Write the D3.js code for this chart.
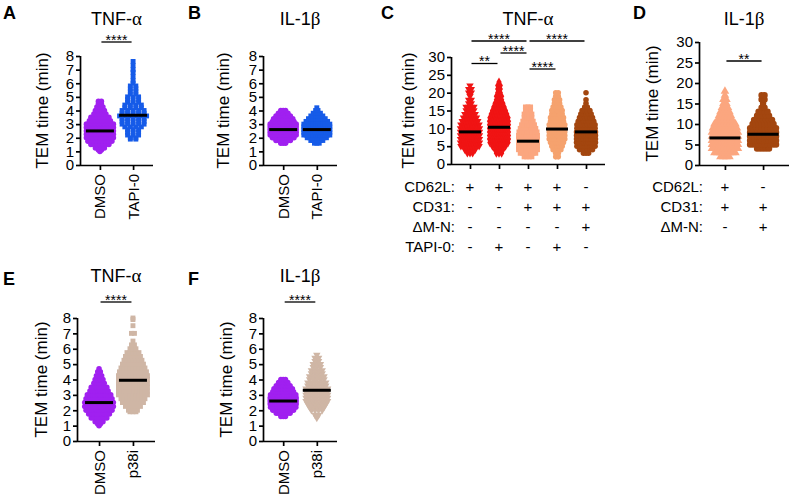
<!DOCTYPE html>
<html><head><meta charset="utf-8">
<script src="https://cdnjs.cloudflare.com/ajax/libs/d3/7.8.5/d3.min.js"></script>
<style>
body{margin:0;background:#fff}
svg{display:block}
text{font-family:"Liberation Sans",Arial,Helvetica,sans-serif;fill:#000}
</style></head><body>
<svg id="c" width="789" height="503"></svg>
<script>
// ---------------- DATA ----------------
const catsAB = ["DMSO", "TAPI-0"];
const catsEF = ["DMSO", "p38i"];
const catsC = ["C1", "C2", "C3", "C4", "C5"];
const catsD = ["D1", "D2"];
const ticks8 = [0, 1, 2, 3, 4, 5, 6, 7, 8];
const ticks30 = [0, 5, 10, 15, 20, 25, 30];

const rowLabelsC = ["CD62L:", "CD31:", "\u0394M-N:", "TAPI-0:"];
const rowSignsC = [["+","+","+","+","-"],["-","-","+","+","+"],["-","-","-","-","+"],["-","+","-","+","-"]];
const rowLabelsD = ["CD62L:", "CD31:", "\u0394M-N:"];
const rowSignsD = [["+","-"],["+","+"],["-","+"]];

// values as [TEM time (min), number of cells at that time]
const A_DMSO = [[1.0,1],[1.1,2],[1.25,4],[1.5,7],[1.75,9],[2.0,11],[2.25,12],[2.5,12],[2.75,11],[3.0,10],[3.25,8],[3.5,7],[3.75,5],[4.0,4],[4.25,3],[4.5,2],[4.67,2]];
const A_TAPI = [[1.9,2],[2.0,2],[2.2,3],[2.4,3],[2.6,3],[2.8,4],[3.0,5],[3.2,5],[3.4,5],[3.6,6],[3.8,5],[4.0,5],[4.2,4],[4.4,4],[4.6,3],[4.8,3],[5.0,3],[5.2,2],[5.4,2],[5.6,2],[5.8,2],[6.0,1],[6.2,1],[6.5,1],[6.8,1],[7.0,1],[7.3,1],[7.6,1]];
const B_DMSO = [[1.6,3],[1.8,7],[2.0,10],[2.2,12],[2.4,13],[2.6,14],[2.8,13],[3.0,12],[3.2,10],[3.4,9],[3.6,7],[3.8,5],[4.0,3]];
const B_TAPI = [[1.6,3],[1.8,6],[2.0,9],[2.2,12],[2.4,13],[2.6,14],[2.8,13],[3.0,12],[3.2,10],[3.4,8],[3.6,6],[3.8,4],[4.0,2],[4.2,1]];
const C_1 = [[3,3],[4,5],[5,8],[6,9],[7,10],[8,10],[9,10],[10,9],[11,8],[12,7],[13,6],[14,5],[15,4],[16,4],[17,2],[18,2],[19,1],[20,2],[21,2],[22,1]];
const C_2 = [[3,3],[4,4],[5,6],[6,8],[7,9],[8,10],[9,10],[10,10],[11,10],[12,9],[13,8],[14,7],[15,6],[16,5],[17,4],[18,3],[19,3],[20,2],[21,2],[22,2],[23,1]];
const C_3 = [[2,4],[3,7],[4,9],[5,11],[6,11],[7,10],[8,9],[9,8],[10,7],[11,6],[12,5],[13,4],[14,4],[15,3],[16,3]];
const C_4 = [[2,2],[3,2],[4,4],[5,5],[6,6],[7,7],[8,7],[9,7],[10,7],[11,7],[12,6],[13,6],[14,5],[15,5],[16,4],[17,3],[18,3],[19,2],[20,2]];
const C_5 = [[3,3],[4,6],[5,8],[6,9],[7,9],[8,9],[9,9],[10,8],[11,8],[12,7],[13,6],[14,5],[15,4],[16,2],[17,1],[18,1],[20,1]];
const D_1 = [[2,4],[3,8],[4,10],[5,12],[6,12],[7,11],[8,10],[9,9],[10,8],[11,6],[12,5],[13,4],[14,3],[15,2],[16,2],[17,1],[18,1]];
const D_2 = [[4,5],[5,10],[6,12],[7,12],[8,11],[9,10],[10,8],[11,7],[12,5],[13,4],[14,2],[15,1],[16,2],[17,2]];
const E_DMSO = [[1.0,1],[1.1,2],[1.25,4],[1.5,7],[1.75,9],[2.0,11],[2.25,12],[2.5,12],[2.75,11],[3.0,10],[3.25,8],[3.5,7],[3.75,5],[4.0,4],[4.25,3],[4.5,2],[4.7,1]];
const E_P38 = [[1.9,3],[2.0,4],[2.25,6],[2.5,8],[2.75,9],[3.0,11],[3.25,12],[3.5,12],[3.75,12],[4.0,12],[4.25,11],[4.5,10],[4.75,9],[5.0,8],[5.25,7],[5.5,6],[5.75,5],[6.0,3],[6.25,2],[6.5,1],[7.0,2],[7.5,1],[7.9,1],[8.0,1]];
const F_DMSO = [[1.6,3],[1.8,7],[2.0,10],[2.2,12],[2.4,13],[2.6,14],[2.8,13],[3.0,12],[3.2,10],[3.4,9],[3.6,7],[3.8,5],[4.0,3]];
const F_P38 = [[1.5,1],[1.7,2],[2.0,4],[2.2,5],[2.4,6],[2.6,7],[2.8,7],[3.0,7],[3.2,7],[3.4,7],[3.6,6],[3.8,6],[4.0,5],[4.2,5],[4.4,4],[4.6,4],[4.8,3],[5.0,3],[5.2,2],[5.4,2],[5.6,1]];

// medians (min)
const medA = [2.5, 3.65];
const medB = [2.6, 2.6];
const medC = [9.0, 10.3, 6.4, 9.8, 9.0];
const medD = [6.6, 7.5];
const medE = [2.5, 3.95];
const medF = [2.6, 3.3];

// significance: [from category index, to category index, label]
const sigA = [[0, 1, "****"]];
const sigC = [[0, 2, "****"], [2, 4, "****"], [1, 2, "****"], [0, 1, "**"], [2, 3, "****"]];
const sigD = [[0, 1, "**"]];
const sigE = [[0, 1, "****"]];
const sigF = [[0, 1, "****"]];

// ---------------- STYLE ----------------
const PURPLE = "#A020F0", BLUE = "#165BE8", RED = "#F01414", SALMON1 = "#FBA67F", SALMON2 = "#F5A26E",
      BROWN = "#A3460F", TAN = "#CFB6A5";

const svg = d3.select("#c");
const FONT_TICK = 15;

function symbolFor(name, size) {
  const t = {circle: d3.symbolCircle, square: d3.symbolSquare, diamond: d3.symbolDiamond,
             triUp: d3.symbolTriangle, triDown: d3.symbolTriangle}[name];
  return d3.symbol().type(t).size(size)();
}

function greekTitle(sel, pre, greek) {
  sel.append("tspan").text(pre);
  sel.append("tspan").style("font-family", "'Liberation Serif','Times New Roman',serif").style("font-size", "19px").text(greek);
}

function drawPanel(p) {
  const g = svg.append("g");
  const x = d3.scalePoint().domain(p.cats).range([p.x0, p.x1]).padding(p.pad);
  const y = d3.scaleLinear().domain([0, p.yMax]).range([p.yBot, p.yTop]);

  // points
  p.series.forEach((s, ci) => {
    const cx = x(p.cats[ci]);
    const step = s.dx || p.dx;
    const pts = [];
    s.values.forEach(([v, n]) => {
      const dx = n > 1 ? Math.min(step, p.maxW / (n - 1)) : 0;
      for (let i = 0; i < n; i++) pts.push({v, off: (i - (n - 1) / 2) * dx});
    });
    const path = symbolFor(s.shape, p.size);
    const rot = s.shape === "triDown" ? " rotate(180)" : "";
    g.append("g").selectAll("path").data(pts).join("path")
      .attr("d", path)
      .attr("transform", d => `translate(${cx + d.off},${y(d.v)})${rot}`)
      .attr("fill", s.color);
  });

  // medians
  g.append("g").selectAll("line").data(p.medians).join("line")
    .attr("x1", (d, i) => x(p.cats[i]) - p.medW / 2)
    .attr("x2", (d, i) => x(p.cats[i]) + p.medW / 2)
    .attr("y1", d => y(d)).attr("y2", d => y(d))
    .attr("stroke", "#000").attr("stroke-width", 3);

  // axes
  const ya = g.append("g").attr("transform", `translate(${p.x0},0)`)
    .call(d3.axisLeft(y).tickValues(p.ticks).tickSize(4).tickSizeOuter(0).tickPadding(2));
  const xa = g.append("g").attr("transform", `translate(0,${p.yBot})`)
    .call(d3.axisBottom(x).tickSize(5).tickSizeOuter(0).tickFormat(""));
  [ya, xa].forEach(a => {
    a.selectAll("path.domain").attr("stroke", "#000").attr("stroke-width", 1.7);
    a.selectAll(".tick line").attr("stroke", "#000").attr("stroke-width", 1.7);
    a.selectAll(".tick text").attr("fill", "#000")
      .style("font-size", FONT_TICK + "px").style("font-family", "'Liberation Sans',Arial,sans-serif");
  });
  ya.select("path.domain").attr("d", `M0.5,${p.yBot}V${p.yTop}`);
  xa.select("path.domain").attr("d", `M${p.x0},0.5H${p.x1}`);

  // y label
  g.append("text")
    .attr("transform", `translate(${p.yLabX},${(p.yTop + p.yBot) / 2}) rotate(-90)`)
    .attr("text-anchor", "middle").style("font-size", p.yLabSize + "px")
    .text("TEM time (min)");

  // title
  const t = g.append("text").attr("x", (x(p.cats[0]) + x(p.cats[p.cats.length - 1])) / 2).attr("y", p.titleY)
    .attr("text-anchor", "middle").style("font-size", "18px");
  greekTitle(t, p.title[0], p.title[1]);

  // panel letter
  g.append("text").attr("x", p.letter[1]).attr("y", p.letter[2])
    .style("font-size", "18px").style("font-weight", "bold").text(p.letter[0]);

  // significance
  p.sig.forEach(([a, b, lab], k) => {
    const ly = p.sigY[k];
    const xa1 = x(p.cats[a]) + 1.5, xb1 = x(p.cats[b]) - 1.5;
    g.append("line").attr("x1", xa1).attr("x2", xb1).attr("y1", ly).attr("y2", ly)
      .attr("stroke", "#000").attr("stroke-width", 1.3);
    g.append("text").attr("x", (xa1 + xb1) / 2).attr("y", ly + 2.5).attr("text-anchor", "middle")
      .style("font-size", "14px").text(lab);
  });

  // category labels (rotated) or condition rows
  if (p.rows) {
    p.rows.labels.forEach((lab, r) => {
      const ry = p.rows.y[r];
      g.append("text").attr("x", p.x0 + 4).attr("y", ry).attr("text-anchor", "end")
        .attr("dominant-baseline", "central").style("font-size", "15px").text(lab);
      p.rows.signs[r].forEach((sg, i) => {
        g.append("text").attr("x", x(p.cats[i])).attr("y", ry).attr("text-anchor", "middle")
          .attr("dominant-baseline", "central").style("font-size", "15px").text(sg);
      });
    });
  } else {
    p.cats.forEach(c => {
      g.append("text")
        .attr("transform", `translate(${x(c) + 5.5},${p.yBot + 9}) rotate(-90)`)
        .attr("text-anchor", "end").style("font-size", "15px").text(c);
    });
  }
}

// ---------------- PANELS ----------------
drawPanel({cats: catsAB, x0: 80, x1: 153, pad: 0.6, yTop: 56, yBot: 165, yMax: 8, ticks: ticks8,
  series: [{values: A_DMSO, color: PURPLE, shape: "circle", dx: 3}, {values: A_TAPI, color: BLUE, shape: "square", dx: 5.5}],
  medians: medA, medW: 28, size: 24, dx: 3, maxW: 27,
  yLabX: 48, yLabSize: 17, title: ["TNF-", "\u03b1"], titleY: 25, letter: ["A", 3, 19],
  sig: sigA, sigY: [42]});

drawPanel({cats: catsAB, x0: 263, x1: 337, pad: 0.6, yTop: 56, yBot: 165, yMax: 8, ticks: ticks8,
  series: [{values: B_DMSO, color: PURPLE, shape: "circle"}, {values: B_TAPI, color: BLUE, shape: "square"}],
  medians: medB, medW: 28, size: 24, dx: 2.4, maxW: 26,
  yLabX: 229, yLabSize: 17, title: ["IL-1", "\u03b2"], titleY: 25, letter: ["B", 188, 19],
  sig: [], sigY: []});

drawPanel({cats: catsC, x0: 451, x1: 605, pad: 0.655, yTop: 57, yBot: 164, yMax: 30, ticks: ticks30,
  series: [{values: C_1, color: RED, shape: "triDown"}, {values: C_2, color: RED, shape: "diamond"},
           {values: C_3, color: SALMON1, shape: "square"}, {values: C_4, color: SALMON2, shape: "circle"},
           {values: C_5, color: BROWN, shape: "circle"}],
  medians: medC, medW: 22, size: 24, dx: 2.6, maxW: 19,
  yLabX: 414, yLabSize: 17, title: ["TNF-", "\u03b1"], titleY: 25, letter: ["C", 381, 19],
  sig: sigC, sigY: [41, 41, 53, 63.5, 69],
  rows: {labels: rowLabelsC, signs: rowSignsC, y: [186, 206, 226, 246]}});

drawPanel({cats: catsD, x0: 699, x1: 789, pad: 0.68, yTop: 42, yBot: 165, yMax: 30, ticks: ticks30,
  series: [{values: D_1, color: SALMON1, shape: "triUp"}, {values: D_2, color: BROWN, shape: "circle"}],
  medians: medD, medW: 31, size: 32, dx: 3, maxW: 26,
  yLabX: 658, yLabSize: 17, title: ["IL-1", "\u03b2"], titleY: 25, letter: ["D", 633, 19],
  sig: sigD, sigY: [61],
  rows: {labels: rowLabelsD, signs: rowSignsD, y: [186, 206, 226]}});

drawPanel({cats: catsEF, x0: 77, x1: 155, pad: 0.65, yTop: 318, yBot: 441, yMax: 8, ticks: ticks8,
  series: [{values: E_DMSO, color: PURPLE, shape: "circle", dx: 2.6}, {values: E_P38, color: TAN, shape: "square", dx: 3}],
  medians: medE, medW: 28, size: 24, dx: 3, maxW: 29,
  yLabX: 47, yLabSize: 17, title: ["TNF-", "\u03b1"], titleY: 282, letter: ["E", 3, 285],
  sig: sigE, sigY: [302]});

drawPanel({cats: catsEF, x0: 263, x1: 337, pad: 0.6, yTop: 318, yBot: 441, yMax: 8, ticks: ticks8,
  series: [{values: F_DMSO, color: PURPLE, shape: "circle", dx: 2.3}, {values: F_P38, color: TAN, shape: "triDown", dx: 3.6}],
  medians: medF, medW: 28, size: 24, dx: 3, maxW: 26,
  yLabX: 232, yLabSize: 17, title: ["IL-1", "\u03b2"], titleY: 282, letter: ["F", 188, 285],
  sig: sigF, sigY: [302]});
</script></body></html>
